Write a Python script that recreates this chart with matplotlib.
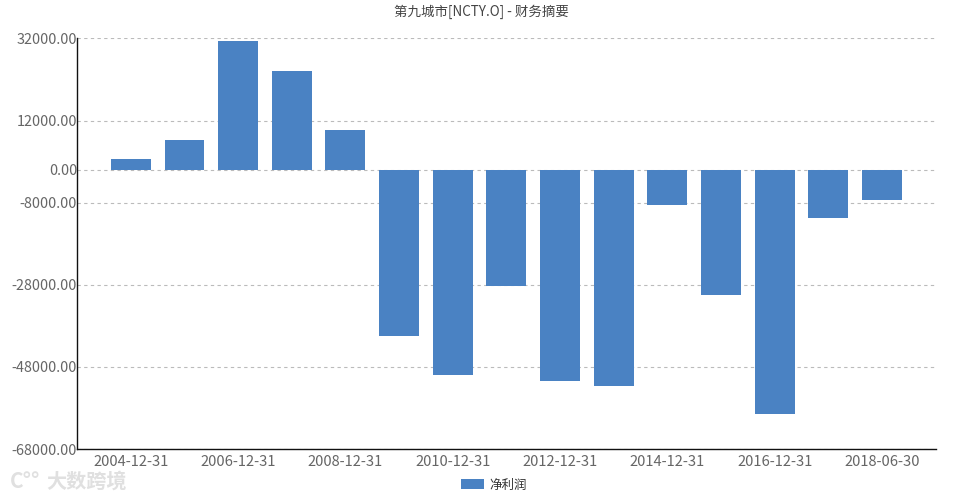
import matplotlib
matplotlib.use("Agg")
import matplotlib.pyplot as plt

plt.rcParams["font.family"] = ["Noto Sans CJK SC", "DejaVu Sans"]
plt.rcParams["axes.unicode_minus"] = False

# 净利润
dates = ["2004-12-31", "2005-12-31", "2006-12-31", "2007-12-31", "2008-12-31",
         "2009-12-31", "2010-12-31", "2011-12-31", "2012-12-31", "2013-12-31",
         "2014-12-31", "2015-12-31", "2016-12-31", "2017-12-31", "2018-06-30"]
net_profit = [2700, 7300, 31400, 24100, 9750, -40500, -50000, -28300,
              -51500, -52700, -8500, -30500, -59500, -11700, -7300]
y_ticks = [32000, 12000, 0, -8000, -28000, -48000, -68000]

W, H = 960, 498
fig = plt.figure(figsize=(W / 100, H / 100), dpi=100)
ax = fig.add_axes([77.2 / W, 1 - 449 / H, (935.7 - 77.2) / W, (449 - 38.5) / H])

xs = list(range(len(dates)))
bars = ax.bar(xs, net_profit, width=0.745, color="#4a82c3", zorder=3, label="净利润")

ax.set_xlim(-1, 15)
ax.set_ylim(-68000, 32000)
ax.set_yticks(y_ticks)
ax.set_yticklabels([f"{v:.2f}" for v in y_ticks])
ax.set_xticks(xs[::2])
ax.set_xticklabels(dates[::2])
ax.tick_params(axis="both", length=0, labelcolor="#666666")
ax.tick_params(axis="x", pad=4, labelsize=10.6)
ax.tick_params(axis="y", pad=0, labelsize=10.4)
ax.grid(axis="y", color="#bbbbbb", linestyle=(0, (3, 3)), linewidth=0.8, zorder=1)

for s in ["top", "right"]:
    ax.spines[s].set_visible(False)
for s in ["left", "bottom"]:
    ax.spines[s].set_color("#111111")
    ax.spines[s].set_linewidth(1.0)

fig.text(481.5 / W, 1 - 12 / H, "第九城市[NCTY.O] - 财务摘要", ha="center", va="center",
         fontsize=9.7, color="#444444")

fig.legend(handles=[bars], labels=["净利润"], loc="center", frameon=False,
           bbox_to_anchor=(494 / W, 1 - 485 / H), fontsize=9, labelcolor="#333333",
           handlelength=1.85, handleheight=0.9, handletextpad=0.4)

# watermark
fig.text(46 / W, 1 - 481 / H, "大数跨境", ha="left", va="center", fontsize=14.5,
         color="#e0e0e0", weight="bold")
fig.text(10 / W, 1 - 481 / H, "C°°", ha="left", va="center", fontsize=15,
         color="#e0e0e0", weight="bold")

fig.savefig("out.png", dpi=100)
